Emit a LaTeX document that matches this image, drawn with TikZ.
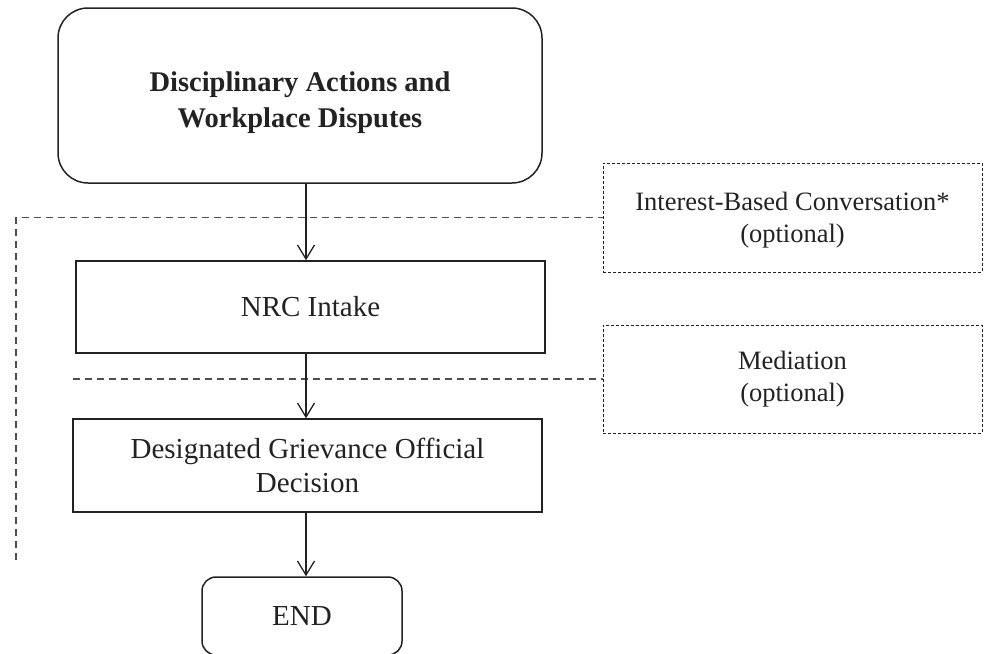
\documentclass[tikz,border=0pt]{standalone}
\usepackage{fontspec}
\setmainfont{Liberation Serif}
\usetikzlibrary{arrows.meta,calc}
\definecolor{ink}{HTML}{222222}
\begin{document}
\begin{tikzpicture}[x=1pt,y=-1pt,
  box/.style={draw=ink, text=ink, line width=1.5pt, align=center, inner sep=0pt,
              font=\fontsize{29}{34}\selectfont},
  optbox/.style={draw=ink, text=ink, line width=1pt, dash pattern=on 3pt off 2pt,
              align=center, inner sep=0pt, minimum width=379pt,
              font=\fontsize{26.5}{31.5}\selectfont},
  arr/.style={draw=ink, line width=1.3pt, -{Straight Barb[length=14pt,width=17pt,line width=1.3pt]}},
  dline/.style={draw=ink!80, line width=1.3pt, dash pattern=on 7pt off 5pt}]
\useasboundingbox (0,0) rectangle (984,653);
\node[box, rounded corners=30pt, minimum width=484pt, minimum height=175pt,
      font=\bfseries\fontsize{28.5}{36}\selectfont] (top) at (300,95.5)
      {\rule{0pt}{34pt}Disciplinary Actions and\\Workplace Disputes};
\node[box, minimum width=469pt, minimum height=92pt] (nrc) at (310.5,307) {NRC Intake};
\node[box, minimum width=469pt, minimum height=93pt] (dgo) at (307.5,465.5)
      {Designated Grievance Official\\Decision};
\node[box, rounded corners=14pt, minimum width=200pt, minimum height=78pt] (end) at (302,616) {END};
\node[optbox, minimum height=109pt] (ibc) at (792.5,217.5) {\rule{0pt}{24pt}Interest-Based Conversation*\\(optional)};
\node[optbox, minimum height=108pt] (med) at (792.5,379) {Mediation\\(optional)};
\coordinate (axis) at (306,0);
\coordinate (l1) at (16,560);
\coordinate (l2) at (73,379);
\draw[dline] (l1) |- (ibc.west);
\draw[dline] (l2) -- (med.west);
\draw[arr] (top.south -| axis) -- (nrc.north -| axis);
\draw[arr] (nrc.south -| axis) -- (dgo.north -| axis);
\draw[arr] (dgo.south -| axis) -- (end.north -| axis);
\end{tikzpicture}
\end{document}
